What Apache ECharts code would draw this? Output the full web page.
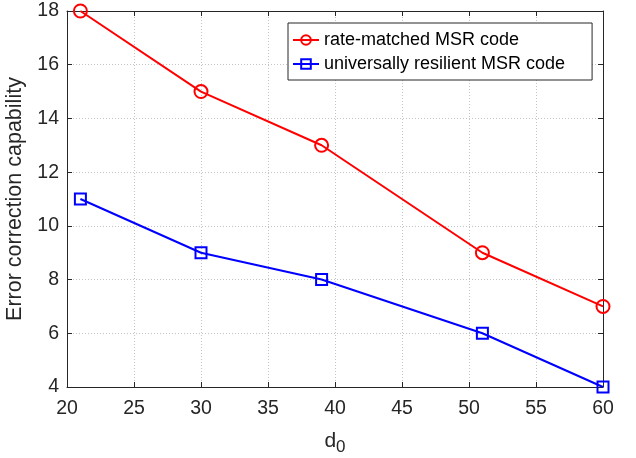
<!DOCTYPE html>
<html><head><meta charset="utf-8">
<script src="https://cdn.jsdelivr.net/npm/echarts@6/dist/echarts.min.js"></script>
<style>html,body{margin:0;padding:0;background:#fff}#c{width:636px;height:458px}</style>
</head><body><div id="c"></div>
<script>
var d0 = [21, 30, 39, 51, 60];
var rateMatched = [18, 15, 13, 9, 7];
var universal = [11, 9, 8, 6, 4];
var seriesNames = ['rate-matched MSR code', 'universally resilient MSR code'];
var xTicks = [20, 25, 30, 35, 40, 45, 50, 55, 60];
var yTicks = [4, 6, 8, 10, 12, 14, 16, 18];

var font = 'Liberation Sans, Arial, Helvetica, sans-serif';
var chart = echarts.init(document.getElementById('c'), null, {renderer: 'canvas'});
function pairs(xs, ys) { return xs.map(function (x, i) { return [x, ys[i]]; }); }
var axisLineStyle = {color: '#262626', width: 1};
var gridLine = {show: true, lineStyle: {color: '#c4c4c4', type: [1, 2], width: 1}};
chart.setOption({
  animation: false,
  backgroundColor: '#fff',
  grid: {left: 67, right: 33, top: 11, bottom: 71, show: false, containLabel: false, outerBoundsMode: 'none'},
  legend: {
    show: true,
    left: 288, top: 23,
    orient: 'vertical',
    data: seriesNames,
    backgroundColor: '#fff',
    borderColor: '#262626', borderWidth: 1, borderRadius: 0,
    padding: [8, 27, 7, 4],
    itemGap: 6,
    itemWidth: 26, itemHeight: 12,
    textStyle: {fontFamily: font, fontSize: 18, color: '#000'}
  },
  xAxis: [{
    type: 'value', min: 20, max: 60, interval: 5,
    name: 'd{sub|0}', nameLocation: 'middle', nameGap: 40,
    nameTextStyle: {fontFamily: font, fontSize: 21, color: '#262626',
      rich: {sub: {fontFamily: font, fontSize: 17, verticalAlign: 'bottom', padding: [12, 0, 0, 0], color: '#262626'}}},
    axisLine: {show: true, lineStyle: axisLineStyle},
    axisTick: {show: true, inside: true, length: 5, lineStyle: axisLineStyle},
    axisLabel: {fontFamily: font, fontSize: 19.5, color: '#262626', margin: 12},
    splitLine: gridLine
  }, {
    type: 'value', min: 20, max: 60, interval: 5, position: 'top',
    axisLine: {show: true, lineStyle: axisLineStyle},
    axisTick: {show: true, inside: true, length: 5, lineStyle: axisLineStyle},
    axisLabel: {show: false}, splitLine: {show: false}
  }],
  yAxis: [{
    type: 'value', min: 4, max: 18, interval: 2,
    name: 'Error correction capability', nameLocation: 'middle', nameGap: 32,
    nameTextStyle: {fontFamily: font, fontSize: 21.5, color: '#262626'},
    axisLine: {show: true, lineStyle: axisLineStyle},
    axisTick: {show: true, inside: true, length: 5, lineStyle: axisLineStyle},
    axisLabel: {fontFamily: font, fontSize: 19.5, color: '#262626', margin: 8},
    splitLine: gridLine
  }, {
    type: 'value', min: 4, max: 18, interval: 2, position: 'right',
    axisLine: {show: true, lineStyle: axisLineStyle},
    axisTick: {show: true, inside: true, length: 5, lineStyle: axisLineStyle},
    axisLabel: {show: false}, splitLine: {show: false}
  }],
  series: [{
    name: seriesNames[0], type: 'line', data: pairs(d0, rateMatched),
    symbol: 'circle', symbolSize: 13,
    itemStyle: {color: 'rgba(255,255,255,0)', borderColor: '#ff0000', borderWidth: 2},
    lineStyle: {color: '#ff0000', width: 2}
  }, {
    name: seriesNames[1], type: 'line', data: pairs(d0, universal),
    symbol: 'rect', symbolSize: 11,
    itemStyle: {color: 'rgba(255,255,255,0)', borderColor: '#0000ff', borderWidth: 2},
    lineStyle: {color: '#0000ff', width: 2}
  }]
});
</script></body></html>
